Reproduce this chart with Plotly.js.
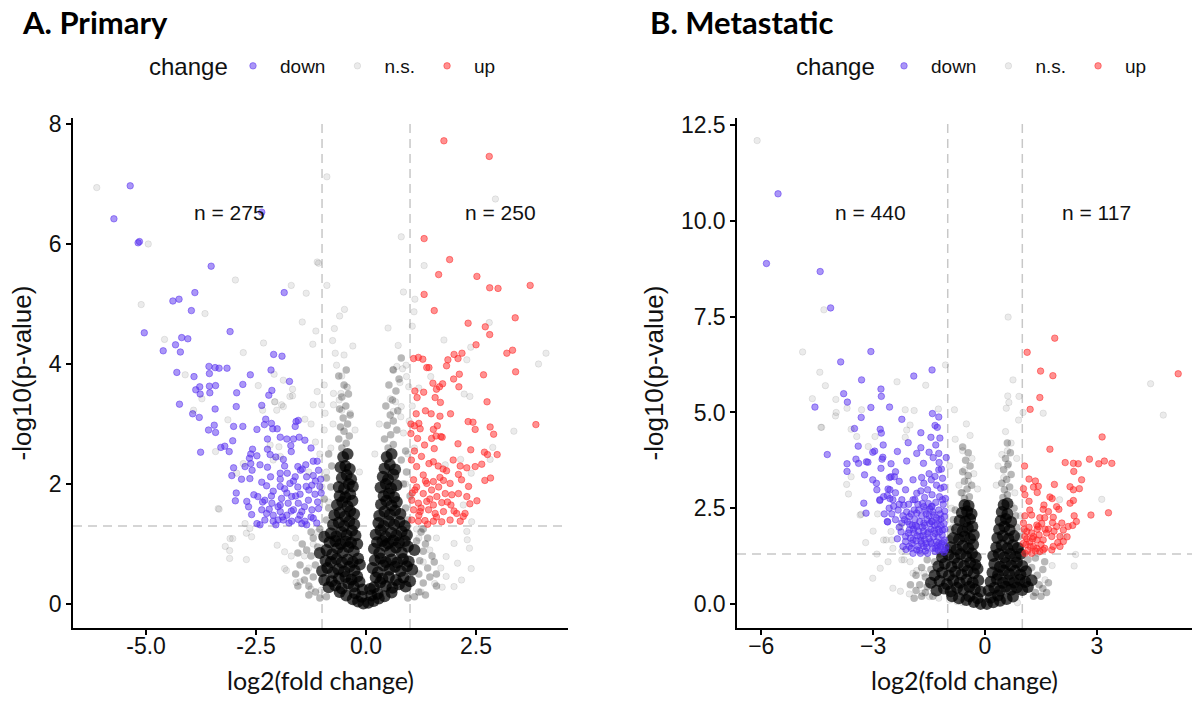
<!DOCTYPE html>
<html><head><meta charset="utf-8">
<script src="https://cdn.plot.ly/plotly-3.0.1.min.js"></script>
<style>html,body{margin:0;padding:0;background:#fff}#chart{width:1195px;height:704px}</style>
</head><body><div id="chart"></div>
<script>
// ---------- Panel A: Primary ----------
const A_down = [[-5.36,6.97],[-5.73,6.42],[-5.18,6.02],[-5.15,6.04],[-2.37,6.53],[-3.52,5.63],[-1.86,5.19],[-3.89,5.19],[-4.39,5.05],[-4.25,5.08],[-3.97,4.89],[-5.04,4.52],[-4.19,4.44],[-4.05,4.42],[-4.33,4.32],[-4.61,4.22],[-4.22,4.20],[-3.09,4.54],[-2.10,4.16],[-1.91,4.13],[-4.30,3.86],[-3.91,3.79],[-3.57,3.96],[-3.43,3.94],[-3.34,3.93],[-3.16,3.93],[-3.56,3.84],[-2.63,3.82],[-2.16,3.90],[-1.74,3.71],[-2.80,3.66],[-3.78,3.62],[-3.87,3.57],[-3.77,3.50],[-3.56,3.63],[-3.42,3.64],[-3.55,3.52],[-2.94,3.52],[-2.14,3.56],[-2.21,3.48],[-4.24,3.33],[-3.43,3.25],[-2.95,3.29],[-2.37,3.31],[-3.94,3.17],[-3.79,3.11],[-2.28,3.08],
[-2.15,3.01],[-2.31,2.99],[-2.02,2.92],[-2.12,2.92],[-1.59,3.04],[-1.54,3.06],[-1.61,2.96],[-2.48,2.91],[-2.80,2.96],[-3.01,2.96],[-3.45,2.98],[-3.58,2.90],[-3.42,2.86],[-1.95,2.78],[-1.80,2.75],[-1.65,2.75],[-1.52,2.78],[-1.39,2.73],[-1.71,2.64],[-1.70,2.54],[-2.24,2.75],[-3.03,2.72],[-3.30,2.61],[-3.21,2.63],[-3.11,2.54],[-3.76,2.53],[-2.58,2.58],[-2.24,2.58],[-2.18,2.49],[-2.62,2.50],[-2.65,2.43],[-2.48,2.47],[-1.88,2.41],[-2.62,2.34],[-2.75,2.29],[-3.01,2.27],[-2.41,2.32],[-2.59,2.23],[-2.24,2.28],[-1.55,2.29],[-1.37,2.32],[-1.49,2.23],[-1.11,2.38],[-1.20,2.38],[-3.05,2.14],[-2.83,2.08],[-2.64,2.09],[-2.37,2.03],[-2.17,2.12],[-1.95,2.18],[-1.79,2.18],[-1.61,2.12],[-1.95,2.08],[-1.35,2.12],[-1.20,2.14],[-1.03,2.08],[-1.08,2.23],[-2.26,1.97],[-1.95,1.96],[-1.73,2.01],[-2.11,1.88],[-1.80,1.85],[-2.95,1.85],[-2.97,1.72],[-2.71,1.71],[-2.46,1.79],[-2.30,1.73],[-2.14,1.68],[-1.92,1.76],[-1.69,1.79],[-1.50,1.83],[-1.36,1.96],[-1.23,1.98],[-1.05,1.96],[-1.02,1.85],[-1.16,1.83],[-1.31,1.73],[-1.54,1.68],[-1.77,1.68],[-1.95,1.65],[-2.60,1.49],[-2.67,1.62],[-2.37,1.57],[-2.26,1.51],[-2.11,1.48],[-1.95,1.54],[-1.80,1.48],[-1.65,1.57],[-1.46,1.54],[-1.23,1.57],[-1.08,1.59],[-2.30,1.40],[-2.11,1.38],[-1.88,1.40],[-1.69,1.38],[-1.54,1.41],[-1.39,1.38],[-1.20,1.43],[-2.41,1.32],[-2.48,1.34],[-1.35,1.32],[-1.46,1.34],[-2.05,1.32],
[-2.00,1.62],[-1.70,1.55],[-1.90,1.45],[-2.20,1.58],[-1.60,1.80],[-1.40,1.62],[-2.35,1.70],[-1.85,1.92],[-1.55,1.95],[-1.25,1.45],[-1.12,1.35],[-2.15,1.80],[-1.75,1.35],[-2.00,1.40],[-1.50,1.48],[-1.30,1.90],[-1.10,1.70],[-2.55,1.82],[-1.65,2.05],[-1.45,2.25],[-1.85,2.30],[-2.05,2.45],[-1.25,2.60],[-1.15,2.05]];
const A_up = [[1.77,7.72],[2.80,7.46],[1.32,6.09],[1.90,5.74],[1.65,5.49],[2.52,5.46],[2.81,5.27],[3.00,5.26],[3.73,5.31],[1.32,5.16],[1.55,4.89],[3.39,4.77],[2.32,4.68],[2.71,4.62],[2.81,4.49],[2.50,4.32],[3.20,4.18],[3.33,4.23],[3.40,3.87],[2.67,3.82],[1.08,4.09],[1.19,4.11],[1.29,4.08],[1.38,3.94],[1.43,3.94],[1.86,4.07],[1.83,3.97],[2.00,4.16],[2.09,4.09],[2.18,4.18],[2.12,3.83],[1.99,3.75],[1.52,3.68],[1.74,3.67],[1.67,3.62],[1.60,3.58],[2.11,3.62],[1.11,3.55],[1.31,3.53],[1.16,3.44],[1.57,3.44],[1.69,3.36],[2.75,3.37],[1.14,3.17],[1.35,3.22],[1.48,3.17],[1.68,3.13],[1.92,3.17],
[2.32,3.04],[2.43,3.03],[2.48,2.91],[2.82,2.95],[2.90,2.83],[3.86,2.99],[1.02,3.00],[1.10,2.97],[1.20,3.01],[1.23,2.92],[1.02,2.84],[1.17,2.76],[1.33,2.65],[1.49,2.76],[1.59,2.80],[1.70,2.79],[1.73,2.78],[1.62,2.97],[1.53,2.91],[1.55,2.59],[2.09,2.67],[2.38,2.57],[2.69,2.53],[2.76,2.49],[2.98,2.49],[1.98,2.40],[1.03,2.40],[1.15,2.29],[1.26,2.46],[1.43,2.34],[1.53,2.37],[1.64,2.30],[1.83,2.22],[1.68,2.11],[2.14,2.30],[2.29,2.27],[2.48,2.29],[2.63,2.33],[2.10,2.16],[2.70,2.06],[2.83,2.10],[1.08,2.07],[1.38,2.01],[1.53,2.04],[1.76,2.06],[1.91,2.01],[2.17,2.07],[2.33,1.96],[1.11,1.90],[1.30,1.84],[1.49,1.90],[1.61,1.79],[1.80,1.84],[2.10,1.84],[2.29,1.79],[2.52,1.72],[2.36,1.67],[1.04,1.73],[1.19,1.68],[1.38,1.71],[1.53,1.65],[1.72,1.69],[1.93,1.65],[1.08,1.57],[1.23,1.54],[1.42,1.57],[1.57,1.51],[1.76,1.54],[2.06,1.51],[2.25,1.51],[1.04,1.40],[1.19,1.38],[1.34,1.39],[1.53,1.38],[1.72,1.37],[1.91,1.40],[2.14,1.38],[2.21,1.46],
[1.15,1.95],[1.25,1.60],[1.45,1.75],[1.60,1.45],[1.85,1.70],[1.30,2.15],[1.10,2.55],[1.40,1.33],[1.65,1.95],[1.95,1.82],[1.20,1.48],[1.05,1.85],[2.00,1.55],[1.75,2.25],[1.35,2.05]];
const A_ns = [[-6.12,6.94],[-4.95,6.00],[-2.97,5.40],[-1.70,5.31],[-1.36,5.18],[-5.11,4.99],[-3.66,4.84],[-4.58,4.41],[-2.33,4.35],[-2.79,4.19],[-1.45,4.70],[-1.14,4.55],[-1.21,4.33],[-1.08,5.68],[-1.11,5.70],[-0.89,7.12],[-4.11,3.82],[-3.73,3.42],[-2.09,3.83],[-2.45,3.64],[-1.88,3.73],[-1.67,3.58],[-1.67,3.47],[-2.07,3.37],[-1.88,3.29],[-1.20,3.32],[2.94,6.75],[0.80,6.12],[1.32,5.64],[-0.89,5.31],[-0.49,4.91],[1.11,5.08],[1.09,4.87],[-0.72,4.59],[1.05,4.63],[-0.76,4.39],[0.73,4.31],[1.77,4.40],[2.80,4.69],[2.38,4.28],[4.09,4.18],[3.92,4.00],[2.29,4.07],[-0.70,4.18],[-0.50,4.15],[-0.67,3.98],[-0.55,3.80],[-0.42,3.61],[0.70,3.96],[0.61,3.91],[0.91,3.98],[0.83,3.92],[0.92,3.79],[0.77,3.69],[0.97,3.62],[0.55,3.42],[0.67,3.37],[0.80,3.29],[0.62,3.21],[0.79,3.12],[-0.95,3.65],[-1.11,3.54],[-0.74,3.51],[-0.57,3.51],[-0.61,3.40],[-0.44,3.62],[-1.01,3.32],[-0.74,3.32],[-0.55,3.23],[-0.36,3.18],[-0.93,3.18],[1.47,3.79],[2.36,3.46],[2.23,3.50],[3.36,2.88],[2.88,2.61],[2.82,2.41],[2.15,2.41],[1.80,2.32],[2.39,2.18],[2.21,1.65],[2.29,1.21],[2.40,1.37],
[-3.34,1.58],[-3.03,1.09],[-3.20,0.96],[-3.10,0.89],[-3.10,0.76],[-2.72,0.74],[-2.02,0.98],[-1.85,0.87],[-1.85,0.59],[-1.81,0.56],[-1.59,0.36],[-1.50,0.37],[-1.02,0.23],[-2.72,1.18],[-2.60,1.12],[1.56,0.34],[1.73,0.28],[2.00,0.29],[1.82,0.46],[2.17,0.40],[2.39,0.59],[2.35,0.93],[2.30,1.07],[2.00,1.01],[1.82,0.79],[2.08,0.68],
[-2.08,3.37],[-1.92,3.32],[-3.14,3.07],[-3.92,3.23],[-3.42,2.54],[-1.39,3.08],[-1.73,3.46],[-2.35,3.23],[-2.03,3.23],[-2.18,2.65],[-1.98,2.62],[-1.95,2.46],[-2.11,2.40],[-2.79,2.34],[-2.94,2.18],[-3.36,1.59],[-2.75,1.34],[-2.64,1.26],[-3.09,1.09],
[-0.90,2.20],[-0.80,2.60],[-0.95,2.90],[-0.75,3.00],[-0.85,1.70],[-1.00,1.95],[0.90,2.00],[0.95,2.50],[0.85,2.85],[0.98,3.05],[-1.30,0.60],[-1.20,1.00],[-1.40,0.80],[-1.10,1.20],[1.30,0.70],[1.20,1.10],[1.45,0.90],[1.15,1.25],[-1.25,0.25],[1.25,0.20],[-0.15,2.20],[0.20,2.50],[-0.25,2.90],[0.30,3.00],[-1.60,1.10],[-1.70,0.80],[1.60,1.10],[1.70,0.60],[-0.30,4.30],[0.50,4.60],[-0.60,4.80],[0.85,5.20],[-1.15,2.70],[-1.25,3.00],[-1.05,2.50],[-1.30,2.20],[1.05,3.30],[1.20,3.60],[1.10,2.60]];
const A_mid = [[-0.55,2.60],[-0.45,2.68],[-0.62,2.75],[-0.38,2.80],[-0.50,2.88],[-0.58,2.95],[-0.42,3.00],[-0.52,3.10],[-0.36,3.15],[-0.60,3.25],[-0.46,3.30],[-0.55,3.45],[-0.40,3.50],[-0.50,3.65],[-0.62,3.80],[-0.45,3.90],
[0.50,2.60],[0.62,2.66],[0.42,2.75],[0.56,2.82],[0.70,2.90],[0.48,2.98],[0.62,3.05],[0.55,3.15],[0.72,3.22],[0.45,3.30],[0.60,3.40],[0.68,3.55],[0.52,3.65],[0.75,3.75],[0.62,3.90],[0.80,4.10],
[-1.15,0.20],[-1.30,0.30],[-1.20,0.45],[-1.35,0.55],[-1.15,0.65],[-1.25,0.80],[-1.10,0.95],[-1.20,1.10],[-1.05,1.25],[-1.40,0.40],[-1.50,0.65],[-1.45,1.00],
[1.20,0.20],[1.30,0.35],[1.20,0.50],[1.40,0.60],[1.22,0.72],[1.30,0.88],[1.15,1.05],[1.25,1.20],[1.45,0.45],[1.50,0.80],[1.40,1.10],
[-0.90,1.40],[-0.85,1.60],[-0.95,1.75],[-0.80,1.95],[-0.90,2.10],[-0.78,2.30],[-0.85,2.50],[0.95,1.40],[0.90,1.60],[1.00,1.80],[0.85,2.00],[0.92,2.20],[0.80,2.40],[0.90,2.55],
[-1.05,0.10],[-0.90,0.12],[0.95,0.10],[1.10,0.12],[-1.30,0.15],[1.35,0.15],[-1.55,0.30],[1.60,0.30],[-1.60,0.50],[1.60,0.50],[-1.35,0.90],[1.35,1.00],[-1.55,0.85],[1.55,0.70],[-1.25,1.20],[1.30,1.25]];
const A_core = [[-0.30,0.08],[-0.18,0.04],[-0.06,0.01],[0.05,0.02],[0.17,0.05],[0.29,0.09],[-0.45,0.14],[0.42,0.13],[-0.60,0.20],[0.58,0.19],[-0.10,0.12],[0.12,0.14],[-0.25,0.18],[0.26,0.17],
[-0.85,0.28],[-0.70,0.31],[-0.55,0.26],[-0.40,0.34],[-0.28,0.29],[-0.15,0.37],[-0.08,0.24],[0.09,0.25],[0.18,0.28],[0.32,0.36],[0.45,0.30],[0.60,0.27],[0.75,0.33],[0.90,0.29],[-0.95,0.40],[-0.62,0.43],[-0.47,0.45],[-0.33,0.41],[-0.20,0.46],[0.22,0.44],[0.37,0.42],[0.52,0.45],[0.68,0.40],[0.85,0.44],[-0.78,0.38],[1.00,0.38],
[-1.00,0.55],[-0.88,0.60],[-0.75,0.52],[-0.63,0.58],[-0.50,0.54],[-0.38,0.62],[-0.26,0.56],[-0.14,0.66],[0.15,0.60],[0.27,0.53],[0.40,0.64],[0.53,0.57],[0.66,0.62],[0.79,0.55],[0.93,0.63],[1.05,0.57],[-0.92,0.72],[-0.80,0.70],[-0.67,0.75],[-0.55,0.69],[-0.42,0.74],[-0.30,0.70],[-0.18,0.76],[0.20,0.73],[0.33,0.76],[0.45,0.70],[0.58,0.74],[0.71,0.69],[0.84,0.75],[0.97,0.71],
[-1.05,0.85],[-0.90,0.90],[-0.77,0.83],[-0.65,0.93],[-0.53,0.86],[-0.40,0.95],[-0.28,0.88],[-0.20,1.00],[0.18,0.92],[0.30,0.85],[0.43,0.97],[0.55,0.88],[0.68,0.94],[0.81,0.86],[0.95,0.96],[1.10,0.90],[-0.83,1.03],[-0.70,1.05],[-0.58,1.00],[-0.46,1.04],[-0.34,1.02],[0.25,1.03],[0.37,1.05],[0.50,1.01],[0.62,1.06],[0.75,1.02],[0.88,1.05],
[-0.95,1.12],[-0.80,1.18],[-0.68,1.13],[-0.56,1.20],[-0.44,1.15],[-0.32,1.22],[-0.24,1.14],[0.22,1.16],[0.33,1.23],[0.45,1.12],[0.57,1.19],[0.69,1.14],[0.81,1.21],[0.93,1.15],[-0.75,1.32],[-0.62,1.36],[-0.50,1.30],[-0.38,1.38],[-0.27,1.33],[0.28,1.35],[0.40,1.30],[0.52,1.38],[0.64,1.32],[0.76,1.37],[0.88,1.30],
[-0.72,1.48],[-0.60,1.52],[-0.48,1.46],[-0.36,1.55],[-0.27,1.50],[0.30,1.47],[0.42,1.54],[0.54,1.49],[0.66,1.56],[0.78,1.50],[-0.66,1.65],[-0.54,1.70],[-0.42,1.63],[-0.31,1.72],[0.34,1.66],[0.46,1.72],[0.58,1.64],[0.70,1.70],[-0.60,1.80],[-0.47,1.78],[-0.36,1.83],[0.40,1.80],[0.52,1.84],[0.64,1.78],
[-0.62,1.95],[-0.50,1.92],[-0.39,2.00],[-0.30,1.96],[0.33,1.94],[0.45,2.00],[0.57,1.93],[0.69,1.98],[-0.55,2.10],[-0.44,2.15],[-0.34,2.08],[0.38,2.12],[0.50,2.08],[0.62,2.16],[-0.58,2.28],[-0.47,2.30],[-0.37,2.25],[0.42,2.26],[0.54,2.32],[0.66,2.24],
[-0.52,2.45],[-0.42,2.50],[0.47,2.45],[0.58,2.50]];

// ---------- Panel B: Metastatic ----------
const B_down = [[-5.55,10.71],[-5.86,8.89],[-4.42,8.68],[-4.14,7.73],[-3.06,6.59],[-3.87,6.32],[-1.42,6.11],[-1.91,5.95],[-3.31,5.85],[-2.79,5.61],[-2.78,5.42],[-3.79,5.49],[-3.69,5.27],[-4.56,5.14],[-3.32,4.87],[-3.06,5.13],[-2.56,5.14],[-2.23,4.82],[-1.41,4.97],[-1.24,4.88],[-1.34,4.66],[-1.28,4.61],[-1.72,4.47],[-1.45,4.35],[-1.21,4.33],[-2.81,4.56],[-2.78,4.46],[-3.50,4.58],[-3.40,4.12],[-4.23,3.90],[-2.96,3.99],[-2.73,4.15],[-2.74,3.83],[-3.14,3.70],[-3.46,3.78],[-3.39,3.67],[-3.70,3.66],[-3.70,3.46],[-2.52,3.66],[-2.35,3.98],[-2.79,3.54],[-3.23,3.37],[-2.40,3.45],[-2.43,3.32],[-2.56,3.30],[-2.06,4.21],[-1.83,3.93],[-1.72,4.08],[-1.50,3.96],[-1.32,4.15],[-1.04,3.82],[-1.17,3.52],[-1.23,3.69],[-1.39,3.82],[-1.65,3.67],[-2.10,3.73],[-3.18,3.71],[-3.01,3.96],[-2.76,3.78],[-2.52,3.32],[-1.24,3.93],
[-3.25,2.63],[-3.19,2.37],[-3.01,3.24],[-2.91,3.15],[-2.90,2.98],[-2.82,2.70],[-2.62,2.83],[-2.55,2.98],[-2.61,2.14],
[-2.82,2.72],[-2.72,2.80],[-2.47,2.72],[-2.57,2.50],[-2.62,2.15],[-2.33,2.45],[-2.23,2.72],[-2.13,2.98],[-1.93,3.24],[-1.93,2.72],[-1.83,2.89],[-1.64,3.15],[-1.54,2.98],[-1.44,3.24],[-1.34,3.33],[-1.24,3.50],[-1.14,3.28],[-1.19,3.02],[-1.14,2.72],[-1.24,2.45],[-1.44,2.54],[-1.64,2.54],[-1.83,2.37],[-2.03,2.28],[-2.23,2.11],[-2.03,1.93],[-1.83,2.02],[-1.64,2.11],[-1.44,2.15],[-1.24,2.19],[-1.09,2.28],[-1.14,1.93],[-1.34,1.84],[-1.54,1.84],[-1.73,1.76],[-1.93,1.67],[-2.13,1.76],[-2.03,1.50],[-1.83,1.41],[-1.64,1.50],[-1.44,1.58],[-1.24,1.58],[-1.09,1.67],[-1.14,1.41],[-1.34,1.37],[-1.54,1.32],[-1.73,1.32],[-1.93,1.32],[-2.13,1.63],
[-1.10,1.35],[-1.20,1.50],[-1.30,1.62],[-1.40,1.45],[-1.50,1.70],[-1.60,1.38],[-1.70,1.58],[-1.80,1.50],[-1.90,1.85],[-2.00,1.72],[-1.15,1.80],[-1.25,1.95],[-1.35,2.05],[-1.45,1.95],[-1.55,2.20],[-1.65,1.90],[-1.75,2.15],[-1.85,1.65],[-1.95,2.05],[-1.10,2.10],[-1.20,2.35],[-1.30,2.25],[-1.40,2.40],[-1.50,2.30],[-1.60,2.45],[-1.70,2.30],[-1.80,2.60],[-1.90,2.45],[-2.10,2.40],[-2.20,2.30],[-2.30,2.00],[-2.40,2.20],[-2.50,2.35],[-1.12,2.60],[-1.22,2.80],[-1.32,2.65],[-1.42,2.85],[-1.52,2.62],[-1.62,2.78],[-1.72,2.95],[-1.10,3.05],[-1.30,3.10],[-1.50,3.40],[-1.70,3.30],[-2.30,3.20],[-2.60,3.00],[-2.40,2.90],[-2.70,2.35],[-2.20,1.50],[-2.35,1.70],[-1.25,1.40],[-1.05,1.50],[-1.58,1.58],[-1.78,1.90],[-1.38,1.75],[-1.68,2.00],[-1.18,2.05],[-1.48,2.10],[-1.88,2.20],[-1.08,1.95],[-1.28,1.52],[-1.98,1.45],[-1.62,1.68],[-1.42,2.55],[-2.05,2.60],
[-1.06,1.42],[-1.16,1.58],[-1.26,1.75],[-1.36,1.92],[-1.46,1.62],[-1.56,1.48],[-1.66,1.78],[-1.76,1.40],[-1.86,2.05],[-1.96,1.58],[-2.06,1.85],[-2.16,2.20],[-1.08,2.42],[-1.18,2.22],[-1.28,2.08],[-1.38,2.32],[-1.48,2.48],[-1.58,2.35],[-1.68,2.62],[-1.78,2.45],[-1.88,2.72],[-1.98,2.35],[-2.08,2.15],[-2.18,2.58],[-1.12,1.62],[-1.32,1.45],[-1.52,1.88],[-1.72,1.65],[-1.92,1.95],[-2.12,1.42],[-1.22,1.88],[-1.42,2.15],[-1.62,2.05],[-1.82,1.78],[-2.02,2.08],[-2.25,1.88],[-2.45,2.55],[-2.55,2.75],[-2.30,2.60],[-1.06,2.75]];
const B_up = [[1.87,6.94],[1.13,6.57],[1.49,6.08],[1.82,5.96],[5.18,6.01],[1.47,5.39],[1.21,5.08],[3.14,4.36],[1.74,4.04],[2.15,3.69],[2.37,3.67],[2.50,3.66],[2.80,3.78],[3.05,3.66],[3.20,3.73],[3.40,3.67],[2.38,3.46],[2.59,3.24],[1.06,3.60],[1.18,3.26],[1.35,3.21],[1.43,3.07],[1.30,3.05],[1.40,2.91],[1.03,3.01],[1.86,3.12],[2.28,3.06],[2.37,2.98],[2.53,3.01],[1.74,2.79],[1.80,2.75],[2.37,2.70],[2.28,2.63],[1.58,2.58],[1.56,2.47],[1.92,2.54],[1.98,2.47],[2.84,2.32],[3.31,2.38],[2.39,2.30],[1.07,2.85],[1.18,2.68],[1.25,2.32],[1.47,2.25],[1.70,2.41],[1.83,2.26],[1.81,2.12],[2.06,2.11],[2.23,2.02],[2.10,1.93],[1.92,2.02],[1.61,1.95],[1.43,2.02],[1.07,2.30],[1.03,2.11],[1.12,1.89],[1.39,2.06],[1.65,1.85],[1.79,1.76],[2.01,1.76],[2.10,1.63],[1.83,1.50],[2.01,1.50],[1.56,1.67],[1.30,1.76],[1.07,1.76],[1.03,1.58],[1.21,1.50],[1.39,1.45],[1.56,1.41],[1.79,1.41],[1.07,1.32],[1.25,1.32],[1.47,1.37],[1.39,1.67],
[1.15,1.40],[1.30,1.50],[1.20,1.62],[1.10,1.55],[1.35,1.38],[1.50,1.55],[1.25,1.85],[1.05,1.95],[1.18,2.00],[1.45,1.80],[1.60,1.45],[1.12,1.70],[1.28,1.70],[1.40,1.95],[1.52,2.10],[1.70,1.95],[1.85,1.90],[1.95,1.60],[2.20,1.75],[2.35,2.05],[2.45,2.15],[1.60,2.25],[1.20,2.45]];
const B_ns = [[-6.11,12.10],[-4.32,7.68],[-4.89,6.58],[-4.43,6.05],[-2.36,5.80],[-4.28,5.70],[-1.59,5.71],[-1.06,6.24],[-4.63,5.36],[-4.00,5.34],[-2.14,5.07],[-1.90,5.05],[-3.70,5.11],[-3.31,5.07],[-4.01,4.91],[-1.25,5.09],[0.62,7.49],[4.44,5.75],[0.75,5.85],[0.61,5.43],[0.64,5.26],[0.57,5.11],[0.91,5.42],[1.56,4.98],[4.78,4.93],[-0.82,5.07],
[-4.40,4.61],[-3.99,5.00],[-3.35,2.32],[-3.01,0.67],[-2.81,0.93],[-2.47,0.41],[-2.27,0.33],[-2.03,0.26],[-1.68,0.28],[-1.49,0.19],[-1.24,0.15],[-0.95,0.10],[-0.75,0.06],[-0.60,0.03],[-2.52,1.89],[-2.72,1.67],[-2.23,1.15],[-1.93,0.80],[-1.64,0.80],[-1.44,0.58],[-1.83,0.87],[-2.47,1.45],[-2.23,1.37],[1.61,0.63],[1.41,1.32],[1.80,1.00],[2.10,1.76],[0.87,0.03],[2.39,0.99],[2.00,2.72],[1.02,5.00],[3.13,2.73],[2.43,1.29],
[-4.38,4.61],[-3.59,4.56],[-3.71,3.12],[-3.59,3.32],[-3.66,2.87],[-3.32,2.34],[-2.88,2.35],[-2.65,1.67],[-2.50,1.67],[-2.26,2.02],[-2.17,1.15],[-2.01,1.10],[-3.44,4.37],[-3.13,4.11],[-2.95,4.37],[-2.14,4.35],[-2.10,4.54],[-2.01,4.67],
[-0.45,3.20],[-0.55,3.50],[-0.35,3.80],[-0.60,4.00],[-0.40,4.40],[0.50,3.30],[0.60,3.60],[0.45,3.90],[0.70,4.20],[0.55,4.50],[-0.20,3.00],[0.30,3.10],[-0.70,3.10],[0.80,2.90],[-0.90,2.50],[0.95,2.30],[-0.95,3.60],[-0.80,4.30],[0.85,3.80],[0.90,4.80],[-0.65,2.90],[0.70,2.60],[-0.85,2.00],[1.00,1.90],[-0.30,3.40],[0.35,3.60],[-0.50,4.70],[0.60,4.00],[-3.00,1.90],[-2.90,1.30],[-3.20,1.60],[-2.60,1.10]];
const B_mid = [[-0.55,2.75],[-0.42,2.80],[-0.62,2.90],[-0.48,3.00],[-0.36,3.10],[-0.55,3.20],[-0.45,3.35],[-0.60,3.45],[-0.40,3.60],[-0.52,3.75],[-0.45,3.95],[-0.60,4.10],
[0.48,2.78],[0.60,2.85],[0.52,2.98],[0.66,3.05],[0.45,3.15],[0.58,3.25],[0.70,3.38],[0.50,3.50],[0.62,3.65],[0.55,3.80],[0.68,3.95],[0.60,4.20],
[-1.60,0.30],[-1.75,0.50],[-1.60,0.70],[-1.45,0.90],[-1.35,1.10],[-1.20,1.30],[-1.85,0.35],[-1.55,0.45],[1.35,0.30],[1.45,0.50],[1.40,0.75],[1.25,0.95],[1.15,1.15],[1.55,0.40],[1.30,0.20],
[-0.98,1.45],[-0.95,1.70],[-0.92,1.95],[-0.85,2.20],[-0.80,2.45],[0.95,1.50],[0.90,1.75],[0.85,2.00],[0.82,2.30],[0.78,2.50],
[-1.90,0.15],[-1.70,0.20],[-1.40,0.20],[1.50,0.20],[1.65,0.30],[1.70,0.55],[-2.00,0.50],[-1.85,0.75],[-1.70,0.95],[-1.55,1.15],[1.55,0.90],[1.35,1.20],[1.60,1.10]];
const B_core = [[-0.70,0.15],[-0.50,0.10],[-0.30,0.05],[-0.12,0.00],[0.05,0.00],[0.22,0.04],[0.40,0.08],[0.58,0.13],[-0.88,0.20],[0.75,0.19],[-0.20,0.15],[0.15,0.16],[-0.42,0.20],[0.35,0.22],
[-1.30,0.35],[-1.10,0.40],[-0.92,0.33],[-0.75,0.42],[-0.58,0.36],[-0.42,0.45],[-0.27,0.38],[-0.12,0.32],[0.10,0.35],[0.25,0.42],[0.40,0.34],[0.55,0.45],[0.70,0.37],[0.85,0.43],[1.00,0.36],[1.15,0.44],[-1.45,0.55],[-1.22,0.60],[-1.02,0.52],[-0.85,0.62],[-0.68,0.55],[-0.50,0.63],[-0.33,0.56],[-0.18,0.62],[0.15,0.58],[0.32,0.64],[0.48,0.55],[0.63,0.62],[0.78,0.56],[0.93,0.63],[1.08,0.57],[1.25,0.62],
[-1.35,0.75],[-1.15,0.82],[-0.97,0.74],[-0.80,0.84],[-0.63,0.77],[-0.47,0.86],[-0.30,0.80],[-0.20,0.92],[0.20,0.82],[0.35,0.76],[0.50,0.87],[0.65,0.78],[0.80,0.86],[0.95,0.77],[1.10,0.85],[-1.25,0.98],[-1.08,1.05],[-0.90,0.97],[-0.73,1.06],[-0.56,0.99],[-0.40,1.08],[-0.26,1.02],[0.25,1.04],[0.40,0.97],[0.55,1.07],[0.70,1.00],[0.85,1.08],[1.00,0.99],
[-1.15,1.22],[-0.98,1.28],[-0.82,1.20],[-0.66,1.30],[-0.50,1.24],[-0.35,1.32],[-0.25,1.22],[0.22,1.25],[0.37,1.30],[0.52,1.22],[0.67,1.31],[0.82,1.24],[0.95,1.30],[-0.92,1.48],[-0.76,1.42],[-0.60,1.52],[-0.45,1.45],[-0.32,1.55],[0.30,1.47],[0.45,1.53],[0.60,1.45],[0.75,1.54],[0.88,1.46],
[-0.85,1.72],[-0.70,1.68],[-0.55,1.76],[-0.40,1.70],[-0.30,1.80],[0.33,1.72],[0.48,1.78],[0.63,1.70],[0.78,1.77],[-0.75,1.95],[-0.60,1.90],[-0.46,1.98],[-0.34,2.02],[0.38,1.95],[0.52,2.02],[0.66,1.93],[-0.68,2.18],[-0.53,2.15],[-0.40,2.22],[0.42,2.17],[0.56,2.22],[0.70,2.14],
[-0.62,2.38],[-0.48,2.42],[-0.36,2.35],[0.45,2.40],[0.60,2.35],[-0.55,2.58],[-0.44,2.56],[0.50,2.58],[0.60,2.62]];

// ---------- labels, ticks, thresholds ----------
const legendNames = ['down','n.s.','up'];
const legendTitle = 'change';
const A_counts = [{x:-3.1, y:6.53, text:'n = 275'}, {x:3.05, y:6.53, text:'n = 250'}];
const B_counts = [{x:-3.08, y:10.23, text:'n = 440'}, {x:3.0, y:10.23, text:'n = 117'}];
const A_xticks = [-5, -2.5, 0, 2.5], A_xtickText = ['-5.0','-2.5','0.0','2.5'];
const A_yticks = [0, 2, 4, 6, 8];
const B_xticks = [-6, -3, 0, 3];
const B_yticks = [0, 2.5, 5, 7.5, 10, 12.5], B_ytickText = ['0.0','2.5','5.0','7.5','10.0','12.5'];
const fcThresh = [-1, 1];
const pThresh = 1.3;

const C_DOWN = 'rgba(85,45,240,0.5)', C_UP = 'rgba(255,35,35,0.5)', C_NS = 'rgba(0,0,0,0.08)',
      C_MID = 'rgba(0,0,0,0.28)', C_CORE = 'rgba(0,0,0,0.72)';
const xs = a => a.map(p => p[0]), ys = a => a.map(p => p[1]);
function pts(data, name, color, xa, ya, legend, show, size, lw) {
  return {type:'scatter', mode:'markers', x:xs(data), y:ys(data), xaxis:xa, yaxis:ya, name:name,
    legend:legend, showlegend:show, legendgroup:name+legend, hoverinfo:'x+y',
    marker:{size:size, color:color, line:{color:color, width:lw}}};
}
const traces = [
  pts(A_mid, 'n.s.', C_MID, 'x', 'y', 'legend', false, 7.5, 0),
  pts(A_core, 'n.s.', C_CORE, 'x', 'y', 'legend', false, 12, 0),
  pts(A_down, legendNames[0], C_DOWN, 'x', 'y', 'legend', true, 6.5, 1),
  pts(A_ns, legendNames[1], C_NS, 'x', 'y', 'legend', true, 6.5, 1),
  pts(A_up, legendNames[2], C_UP, 'x', 'y', 'legend', true, 6.5, 1),
  pts(B_mid, 'n.s.', C_MID, 'x2', 'y2', 'legend2', false, 7.5, 0),
  pts(B_core, 'n.s.', C_CORE, 'x2', 'y2', 'legend2', false, 12, 0),
  pts(B_down, legendNames[0], C_DOWN, 'x2', 'y2', 'legend2', true, 6.5, 1),
  pts(B_ns, legendNames[1], C_NS, 'x2', 'y2', 'legend2', true, 6.5, 1),
  pts(B_up, legendNames[2], C_UP, 'x2', 'y2', 'legend2', true, 6.5, 1)
];

const tickFont = {family:'Liberation Sans, Arial, sans-serif', size:23, color:'#111'};
const xTitleFont = {family:'Lato, Open Sans, sans-serif', size:25, color:'#111'};
const yTitleFont = {family:'Liberation Sans, Arial, sans-serif', size:26, color:'#111'};
function axisBase() {
  return {showline:true, linecolor:'#000', linewidth:1.5, ticks:'outside', ticklen:5, tickwidth:1.5,
    tickcolor:'#000', showgrid:false, zeroline:false, tickfont:tickFont, fixedrange:true};
}
const W = 1195, H = 704;
const legendCommon = {orientation:'h', xanchor:'left', y:1-66/H, yanchor:'middle', traceorder:'normal', itemwidth:44,
  font:{family:'Liberation Sans, Arial, sans-serif', size:19, color:'#111'}, bgcolor:'rgba(0,0,0,0)'};
const layout = {
  width:W, height:H, margin:{l:0, r:0, t:0, b:0}, paper_bgcolor:'#fff', plot_bgcolor:'#fff',
  xaxis: Object.assign(axisBase(), {domain:[73/W, 568/W], range:[-6.66, 4.59], anchor:'y',
    tickmode:'array', tickvals:A_xticks, ticktext:A_xtickText, ticklabelstandoff:-8,
    title:{text:'log2(fold change)', font:xTitleFont, standoff:14}}),
  yaxis: Object.assign(axisBase(), {domain:[76/H, 586/H], range:[-0.4, 8.1], anchor:'x',
    tickmode:'array', tickvals:A_yticks,
    title:{text:'-log10(p-value)', font:yTitleFont, standoff:10}}),
  xaxis2: Object.assign(axisBase(), {domain:[737/W, 1192/W], range:[-6.65, 5.55], anchor:'y2',
    tickmode:'array', tickvals:B_xticks, ticklabelstandoff:-8,
    title:{text:'log2(fold change)', font:xTitleFont, standoff:14}}),
  yaxis2: Object.assign(axisBase(), {domain:[76/H, 586/H], range:[-0.63, 12.69], anchor:'x2',
    tickmode:'array', tickvals:B_yticks, ticktext:B_ytickText,
    title:{text:'-log10(p-value)', font:yTitleFont, standoff:10}}),
  legend: Object.assign({x:226/W}, legendCommon),
  legend2: Object.assign({x:877/W}, legendCommon),
  shapes: [],
  annotations: []
};
const dashLine = {color:'#c8c8c8', width:1.5, dash:'9px,6px'};
[['x','y'],['x2','y2']].forEach(([xa, ya]) => {
  fcThresh.forEach(v => layout.shapes.push({type:'line', xref:xa, yref:ya+' domain', x0:v, x1:v, y0:0, y1:1, line:dashLine, layer:'below'}));
  layout.shapes.push({type:'line', xref:xa+' domain', yref:ya, x0:0, x1:1, y0:pThresh, y1:pThresh, line:dashLine, layer:'below'});
});
const countFont = {family:'Liberation Sans, Arial, sans-serif', size:21, color:'#111'};
A_counts.forEach(c => layout.annotations.push({xref:'x', yref:'y', x:c.x, y:c.y, text:c.text, showarrow:false, font:countFont}));
B_counts.forEach(c => layout.annotations.push({xref:'x2', yref:'y2', x:c.x, y:c.y, text:c.text, showarrow:false, font:countFont}));
const legTitleFont = {family:'Liberation Sans, Arial, sans-serif', size:24, color:'#111'};
[147, 794].forEach(px => layout.annotations.push({xref:'paper', yref:'paper', x:px/W, y:1-66/H, xanchor:'left', yanchor:'middle', text:legendTitle, showarrow:false, font:legTitleFont}));
const titleFont = {family:'Lato, Open Sans, sans-serif', size:31, color:'#000'};
layout.annotations.push({xref:'paper', yref:'paper', x:20/W, y:1-22/H, xanchor:'left', yanchor:'middle', text:'<b>A. Primary</b>', showarrow:false, font:titleFont});
layout.annotations.push({xref:'paper', yref:'paper', x:648/W, y:1-22/H, xanchor:'left', yanchor:'middle', text:'<b>B. Metastatic</b>', showarrow:false, font:titleFont});

Plotly.newPlot('chart', traces, layout, {displayModeBar:false, responsive:false});
</script></body></html>
